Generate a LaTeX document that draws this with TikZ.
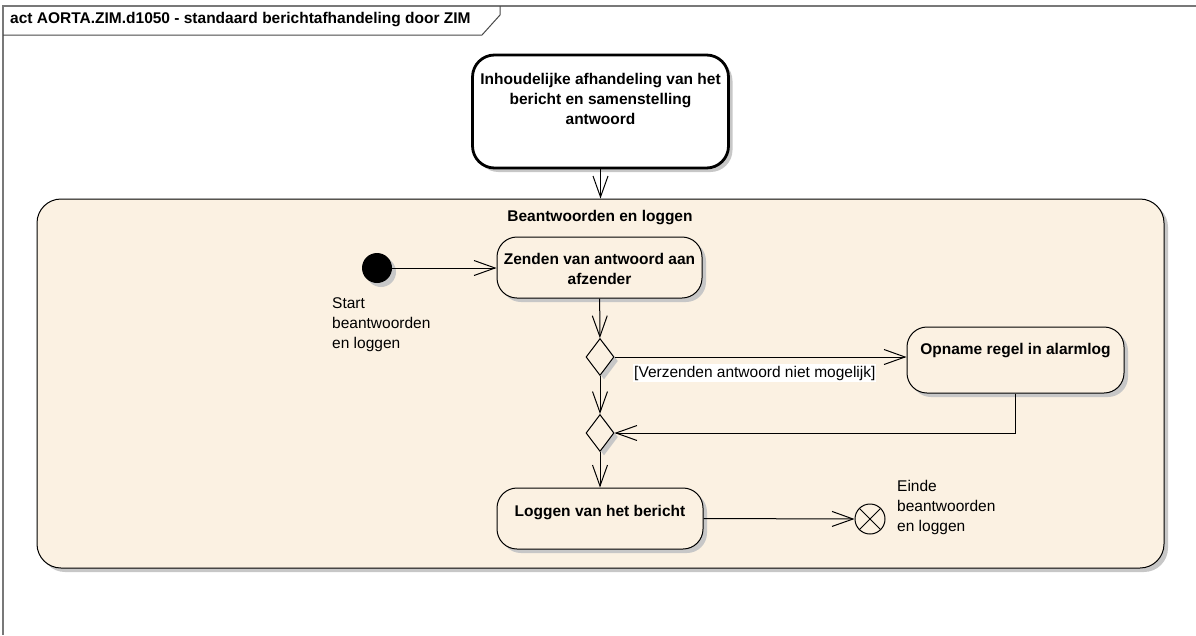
\documentclass[tikz,border=0pt]{standalone}
\usepackage{fontspec}
\setmainfont{Liberation Sans}
\usetikzlibrary{arrows.meta,shapes.geometric,shadows,positioning}

\definecolor{eacream}{RGB}{251,241,226}
\definecolor{framegray}{RGB}{120,120,120}
\newcommand{\diagfont}{\fontsize{15.5}{20}\selectfont}

\tikzset{
  flow/.style={-{Straight Barb[length=21pt,width=15pt]}, line width=1pt},
  shade box/.style={drop shadow={shadow xshift=4pt,shadow yshift=-4pt,fill=black!22,opacity=1}},
  action/.style={draw, line width=1pt, rounded corners=20pt, fill=eacream, shade box},
  decision/.style={draw, diamond, line width=1pt, fill=eacream, inner sep=0pt,
    minimum width=28pt, minimum height=37pt, shade box},
  actname/.style={anchor=north, align=center, inner sep=0pt, font=\diagfont\bfseries},
  note/.style={anchor=north west, align=left, inner sep=0pt},
}

\begin{document}
\begin{tikzpicture}[x=1pt,y=-1pt,font=\diagfont]
  \useasboundingbox (0,0) rectangle (1196,635);

  %draw frame and tab
  \draw[framegray, line width=1.5pt] (1196,6) -- (3,6) -- (3,635);
  \draw[framegray!60!black, line width=1pt] (3,35) -- (482,35) -- (500,15) -- (500,6);
  \node[anchor=west, inner sep=0pt, font=\diagfont\bfseries] (title) at (10,20)
    {act AORTA.ZIM.d1050 - standaard berichtafhandeling door ZIM};

  %draw group
  \node[draw, line width=1pt, rounded corners=24pt, fill=eacream, shade box,
    minimum width=1127pt, minimum height=369pt] (grp) at (600.5,383.5) {};
  \node[inner sep=0pt, font=\diagfont\bfseries] (grpname) at (600,218) {Beantwoorden en loggen};

  %draw actions
  \node[action, fill=white, line width=2.8pt, rounded corners=22pt,
    minimum width=256pt, minimum height=113pt] (inhoud) at (600.5,111.5) {};
  \node[actname] (inhoudtxt) at ([yshift=-19pt]inhoud.north)
    {Inhoudelijke afhandeling van het\\bericht en samenstelling\\antwoord};

  \node[action, minimum width=205pt, minimum height=61pt] (zenden) at (599.5,267.5) {};
  \node[actname] (zendentxt) at ([yshift=-17pt]zenden.north) {Zenden van antwoord aan\\afzender};

  \node[action, minimum width=217pt, minimum height=66pt] (opname) at (1015.5,360) {};
  \node[actname] (opnametxt) at ([yshift=-17pt]opname.north) {Opname regel in alarmlog};

  \node[action, minimum width=206pt, minimum height=61pt] (loggen) at (600,518.5) {};
  \node[actname] (loggentxt) at ([yshift=-18pt]loggen.north) {Loggen van het bericht};

  %draw decisions
  \node[decision] (keuze) at (600,357) {};
  \node[decision] (samen) at (600,433) {};

  %draw start and end
  \node[circle, fill=black, minimum size=30pt, inner sep=0pt, shade box] (start) at (377,268) {};
  \node[note] (startlbl) at (332,297) {Start\\beantwoorden\\en loggen};
  \node[circle, draw, line width=1pt, fill=eacream, minimum size=30pt, inner sep=0pt,
    path picture={\draw[line width=1pt, shift={(path picture bounding box.center)}]
      (-10.6pt,-10.6pt) -- (10.6pt,10.6pt) (-10.6pt,10.6pt) -- (10.6pt,-10.6pt);}]
    (einde) at (870,519) {};
  \node[note] (eindelbl) at (897,480) {Einde\\beantwoorden\\en loggen};

  %draw flows
  \draw[flow] (inhoud.south) -- (grp.north);
  \draw[flow] (start.east) -- (start.east -| zenden.west);
  \draw[flow] (zenden) -- (keuze);
  \draw[flow] (keuze.east) -- (keuze.east -| opname.west);
  \node[anchor=west, fill=white, inner xsep=1pt, inner ysep=2pt] (guard) at (633,373)
    {[Verzenden antwoord niet mogelijk]};
  \draw[flow] (keuze) -- (samen);
  \draw[flow] (opname.south) |- (samen.east);
  \draw[flow] (samen) -- (loggen);
  \draw[flow] (loggen.east) -- (einde.west);
\end{tikzpicture}
\end{document}
